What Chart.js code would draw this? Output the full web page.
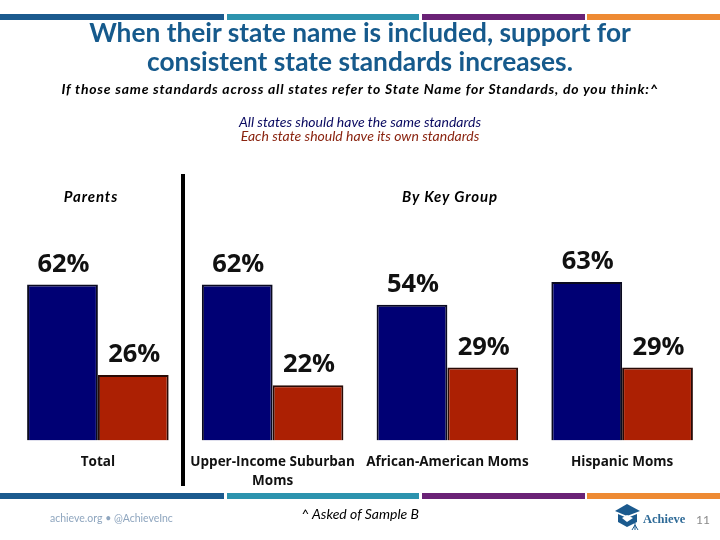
<!DOCTYPE html>
<html>
<head>
<meta charset="utf-8">
<script src="https://cdn.jsdelivr.net/npm/chart.js@4"></script>
<style>
  html, body { margin: 0; padding: 0; background: #fff; }
  #page { position: relative; width: 720px; height: 540px; overflow: hidden; font-family: Lato, sans-serif; }
  #page canvas { position: absolute; left: 0; top: 0; }
  .txt { position: absolute; text-align: center; white-space: nowrap; }
  .strip { position: absolute; height: 6px; }
</style>
</head>
<body>
<div id="page">
  <canvas id="chart" width="720" height="540"></canvas>

  <div class="strip" style="left:0;top:14px;width:224px;background:#1b5a8e"></div>
  <div class="strip" style="left:227px;top:14px;width:192px;background:#2c93ae"></div>
  <div class="strip" style="left:422px;top:14px;width:163px;background:#6a2276"></div>
  <div class="strip" style="left:587px;top:14px;width:133px;background:#ee8a33"></div>
  <div class="strip" style="left:0;top:493px;width:224px;background:#1b5a8e"></div>
  <div class="strip" style="left:227px;top:493px;width:192px;background:#2c93ae"></div>
  <div class="strip" style="left:422px;top:493px;width:163px;background:#6a2276"></div>
  <div class="strip" style="left:587px;top:493px;width:133px;background:#ee8a33"></div>

  <div class="txt" style="left:0;width:720px;top:18px;font-size:26.3px;line-height:29px;font-weight:700;color:#165a8c">When their state name is included, support for<br>consistent state standards increases.</div>
  <div class="txt" style="left:0;width:720px;top:80px;font-size:14px;font-weight:700;font-style:italic;letter-spacing:.78px;color:#000">If those same standards across all states refer to State Name for Standards, do you think:^</div>
  <div class="txt" style="left:0;width:720px;top:113px;font-size:14px;font-style:italic;color:#0a0a60">All states should have the same standards</div>
  <div class="txt" style="left:0;width:720px;top:127px;font-size:14px;font-style:italic;color:#8a2410">Each state should have its own standards</div>
  <div class="txt" style="left:41px;width:100px;top:187px;font-size:15px;font-weight:700;font-style:italic;letter-spacing:.9px;color:#000">Parents</div>
  <div class="txt" style="left:380px;width:140px;top:187px;font-size:15px;font-weight:700;font-style:italic;letter-spacing:.9px;color:#000">By Key Group</div>

  <div style="position:absolute;left:181px;top:174px;width:4px;height:312px;background:#000"></div>

  <div class="txt" style="left:50px;top:512px;font-size:10.5px;color:#8fa6bf">achieve.org • @AchieveInc</div>
  <div class="txt" style="left:260px;width:200px;top:505px;font-size:14px;font-style:italic;color:#000">^ Asked of Sample B</div>
  <svg style="position:absolute;left:613px;top:503px" width="30" height="28" viewBox="0 0 30 28">
    <path d="M2 8 L14 1 L27 8 L14 13 Z" fill="#1b5a8e"/>
    <path d="M5 11 L14 15 L24 11 L24 19 L14 24 L5 19 Z" fill="#1b5a8e"/>
    <path d="M9 15 L14 12 L20 15 L14 19 Z" fill="#fff"/>
    <path d="M22 20 L22 27 M22 22 L19 27 M22 22 L25 27" stroke="#1b5a8e" stroke-width="1" fill="none"/>
  </svg>
  <div class="txt" style="left:643px;top:512px;font-family:'Liberation Serif',serif;font-size:12.5px;font-weight:bold;color:#2e6a97">Achieve</div>
  <div class="txt" style="left:696px;top:512px;font-size:12px;color:#8a8a8a">11</div>
</div>

<script>
// Values
const categories = ['Total', ['Upper-Income Suburban', 'Moms'], 'African-American Moms', 'Hispanic Moms'];
const sameStandards = [62, 62, 54, 63];
const ownStandards = [26, 22, 29, 29];
const seriesNames = ['All states should have the same standards', 'Each state should have its own standards'];

// Draws the percent above each bar
const barLabels = {
    id: 'barLabels',
    afterDatasetsDraw(chart) {
        const ctx = chart.ctx;
        ctx.save();
        ctx.font = '700 25.5px "Open Sans", sans-serif';
        ctx.fillStyle = '#111';
        ctx.textAlign = 'center';
        ctx.textBaseline = 'alphabetic';
        chart.data.datasets.forEach((dataset, d) => {
            chart.getDatasetMeta(d).data.forEach((bar, i) => {
                ctx.fillText(dataset.data[i] + '%', bar.x + 1, bar.y - 13);
            });
        });
        ctx.restore();
    }
};

new Chart(document.getElementById('chart').getContext('2d'), {
    type: 'bar',
    data: {
        labels: categories,
        datasets: [
            { label: seriesNames[0], data: sameStandards, backgroundColor: '#000074', borderColor: '#0a0a20', borderWidth: 2 },
            { label: seriesNames[1], data: ownStandards, backgroundColor: '#ac2003', borderColor: '#2a0a05', borderWidth: 2 },
        ],
    },
    plugins: [barLabels],
    options: {
        responsive: false,
        animation: false,
        devicePixelRatio: 1,
        layout: { padding: { left: 10.5, right: 10.5, top: 189, bottom: 49.5 } },
        categoryPercentage: 0.81,
        barPercentage: 1,
        plugins: { legend: { display: false }, tooltip: { enabled: false } },
        scales: {
            y: { display: false, min: 0, max: 100 },
            x: {
                afterFit(scale) { scale.height = 50; },
                border: { display: false },
                grid: { display: false, drawTicks: false },
                ticks: {
                    maxRotation: 0,
                    autoSkip: false,
                    padding: 12,
                    color: '#111',
                    font: { family: '"Open Sans", sans-serif', size: 13.5, weight: '700', lineHeight: 1.4 },
                },
            },
        },
    },
});
</script>
</body>
</html>
